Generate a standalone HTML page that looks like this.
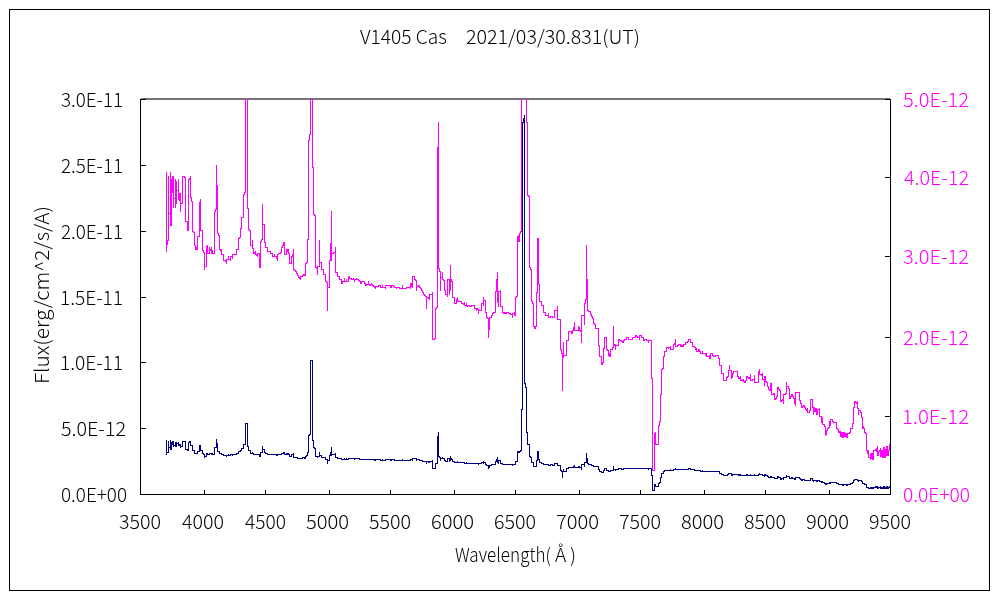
<!DOCTYPE html>
<html><head><meta charset="utf-8"><style>html,body{margin:0;padding:0;background:#fff;overflow:hidden}svg{display:block}</style></head>
<body><svg width="1000" height="600" viewBox="0 0 1000 600">
<rect x="0" y="0" width="1000" height="600" fill="#fff"/>
<rect x="9.5" y="9.5" width="980" height="581" fill="none" stroke="#000" stroke-width="1" shape-rendering="crispEdges"/>
<rect x="141" y="98" width="749" height="2" fill="#747474" shape-rendering="crispEdges"/>
<path d="M166 172h1v80h-1zM167 240h1v5h-1zM168 176h1v65h-1zM169 213h1v1h-1zM170 172h1v54h-1zM171 179h1v47h-1zM172 176h1v17h-1zM173 176h1v32h-1zM174 198h1v1h-1zM175 179h1v29h-1zM176 181h1v23h-1zM177 190h1v1h-1zM178 179h1v21h-1zM179 193h1v8h-1zM180 193h1v19h-1zM181 203h1v1h-1zM182 176h1v28h-1zM183 176h1v1h-1zM184 176h1v2h-1zM185 177h1v45h-1zM186 221h1v1h-1zM187 221h1v10h-1zM188 179h1v52h-1zM189 178h1v2h-1zM190 176h1v22h-1zM191 197h1v5h-1zM192 201h1v31h-1zM193 231h1v2h-1zM194 232h1v14h-1zM195 245h1v5h-1zM196 247h1v3h-1zM197 236h1v14h-1zM198 236h1v1h-1zM199 202h1v35h-1zM200 199h1v32h-1zM201 230h1v1h-1zM202 230h1v21h-1zM203 250h1v3h-1zM204 252h1v18h-1zM205 266h1v1h-1zM206 246h1v21h-1zM207 245h1v9h-1zM208 253h1v1h-1zM209 247h1v7h-1zM210 249h1v2h-1zM211 247h1v7h-1zM212 250h1v4h-1zM213 253h1v1h-1zM214 211h1v43h-1zM215 209h1v3h-1zM216 165h1v45h-1zM217 185h1v49h-1zM218 233h1v3h-1zM219 235h1v15h-1zM220 249h1v2h-1zM221 249h1v6h-1zM222 254h1v1h-1zM223 254h1v7h-1zM224 260h1v1h-1zM225 260h1v2h-1zM226 259h1v5h-1zM227 259h1v1h-1zM228 256h1v4h-1zM229 259h1v1h-1zM230 256h1v5h-1zM231 256h1v1h-1zM232 254h1v5h-1zM233 254h1v1h-1zM234 254h1v1h-1zM235 254h1v1h-1zM236 249h1v6h-1zM237 249h1v1h-1zM238 238h1v12h-1zM239 237h1v2h-1zM240 228h1v10h-1zM241 217h1v12h-1zM242 217h1v1h-1zM243 194h1v24h-1zM244 192h1v3h-1zM245 99h1v94h-1zM247 99h1v110h-1zM248 208h1v22h-1zM249 229h1v2h-1zM250 230h1v16h-1zM251 245h1v1h-1zM252 240h1v9h-1zM253 248h1v6h-1zM254 252h1v2h-1zM255 251h1v4h-1zM256 254h1v2h-1zM257 253h1v4h-1zM258 253h1v1h-1zM259 253h1v15h-1zM260 241h1v27h-1zM261 239h1v3h-1zM262 204h1v36h-1zM263 224h1v1h-1zM264 224h1v19h-1zM265 242h1v6h-1zM266 247h1v1h-1zM267 247h1v5h-1zM268 251h1v1h-1zM269 251h1v1h-1zM270 251h1v3h-1zM271 253h1v1h-1zM272 253h1v4h-1zM273 256h1v1h-1zM274 254h1v3h-1zM275 256h1v1h-1zM276 256h1v3h-1zM277 254h1v7h-1zM278 253h1v2h-1zM279 253h1v1h-1zM280 252h1v2h-1zM281 247h1v6h-1zM282 245h1v3h-1zM283 242h1v4h-1zM284 242h1v13h-1zM285 254h1v1h-1zM286 249h1v6h-1zM287 249h1v3h-1zM288 249h1v5h-1zM289 253h1v11h-1zM290 263h1v1h-1zM291 256h1v8h-1zM292 254h1v3h-1zM293 249h1v21h-1zM294 269h1v2h-1zM295 270h1v2h-1zM296 271h1v3h-1zM297 273h1v3h-1zM298 275h1v3h-1zM299 277h1v2h-1zM300 276h1v4h-1zM301 276h1v1h-1zM302 275h1v2h-1zM303 274h1v2h-1zM304 274h1v2h-1zM305 263h1v13h-1zM306 262h1v2h-1zM307 239h1v24h-1zM308 140h1v100h-1zM309 134h1v7h-1zM310 99h1v36h-1zM312 99h1v69h-1zM313 167h1v48h-1zM314 214h1v2h-1zM315 215h1v53h-1zM316 267h1v2h-1zM317 266h1v9h-1zM318 266h1v1h-1zM319 240h1v27h-1zM320 262h1v1h-1zM321 262h1v8h-1zM322 269h1v1h-1zM323 269h1v6h-1zM324 274h1v1h-1zM325 274h1v8h-1zM326 281h1v2h-1zM327 282h1v29h-1zM328 287h1v1h-1zM329 260h1v28h-1zM330 243h1v18h-1zM331 211h1v50h-1zM332 253h1v1h-1zM333 252h1v2h-1zM334 252h1v1h-1zM335 247h1v26h-1zM336 272h1v1h-1zM337 272h1v5h-1zM338 276h1v1h-1zM339 276h1v4h-1zM340 279h1v1h-1zM341 279h1v5h-1zM342 281h1v3h-1zM343 281h1v1h-1zM344 278h1v4h-1zM345 281h1v1h-1zM346 279h1v3h-1zM347 281h1v1h-1zM348 276h1v6h-1zM349 276h1v3h-1zM350 278h1v1h-1zM351 278h1v2h-1zM352 279h1v1h-1zM353 278h1v2h-1zM354 279h1v3h-1zM355 279h1v1h-1zM356 278h1v2h-1zM357 279h1v1h-1zM358 279h1v2h-1zM359 280h1v2h-1zM360 281h1v3h-1zM361 281h1v3h-1zM362 281h1v1h-1zM363 281h1v1h-1zM364 281h1v3h-1zM365 283h1v3h-1zM366 284h1v2h-1zM367 284h1v1h-1zM368 281h1v4h-1zM369 284h1v2h-1zM370 284h1v2h-1zM371 283h1v2h-1zM372 284h1v2h-1zM373 285h1v2h-1zM374 286h1v2h-1zM375 286h1v3h-1zM376 286h1v1h-1zM377 286h1v1h-1zM378 285h1v2h-1zM379 285h1v1h-1zM380 285h1v3h-1zM381 287h1v1h-1zM382 285h1v3h-1zM383 287h1v1h-1zM384 287h1v1h-1zM385 285h1v4h-1zM386 285h1v1h-1zM387 285h1v1h-1zM388 285h1v1h-1zM389 285h1v1h-1zM390 285h1v3h-1zM391 285h1v3h-1zM392 285h1v1h-1zM393 285h1v2h-1zM394 286h1v2h-1zM395 287h1v1h-1zM396 287h1v2h-1zM397 287h1v1h-1zM398 287h1v1h-1zM399 287h1v2h-1zM400 288h1v1h-1zM401 288h1v1h-1zM402 285h1v4h-1zM403 288h1v1h-1zM404 288h1v1h-1zM405 288h1v1h-1zM406 287h1v2h-1zM407 287h1v1h-1zM408 287h1v1h-1zM409 287h1v1h-1zM410 283h1v6h-1zM411 283h1v4h-1zM412 276h1v12h-1zM413 276h1v1h-1zM414 276h1v4h-1zM415 279h1v2h-1zM416 280h1v11h-1zM417 286h1v1h-1zM418 285h1v2h-1zM419 285h1v3h-1zM420 287h1v2h-1zM421 288h1v3h-1zM422 290h1v3h-1zM423 292h1v3h-1zM424 294h1v2h-1zM425 295h1v2h-1zM426 296h1v13h-1zM427 297h1v1h-1zM428 297h1v2h-1zM429 294h1v6h-1zM430 294h1v1h-1zM431 294h1v1h-1zM432 292h1v48h-1zM433 339h1v1h-1zM434 338h1v2h-1zM435 308h1v31h-1zM436 307h1v2h-1zM437 147h1v161h-1zM438 122h1v147h-1zM439 268h1v4h-1zM440 271h1v20h-1zM441 277h1v1h-1zM442 272h1v8h-1zM443 279h1v2h-1zM444 280h1v11h-1zM445 290h1v5h-1zM446 294h1v1h-1zM447 279h1v18h-1zM448 279h1v1h-1zM449 279h1v16h-1zM450 265h1v26h-1zM451 279h1v3h-1zM452 281h1v17h-1zM453 297h1v1h-1zM454 297h1v7h-1zM455 303h1v1h-1zM456 299h1v5h-1zM457 297h1v5h-1zM458 301h1v1h-1zM459 301h1v1h-1zM460 301h1v1h-1zM461 301h1v3h-1zM462 303h1v1h-1zM463 303h1v2h-1zM464 302h1v4h-1zM465 305h1v1h-1zM466 303h1v4h-1zM467 305h1v2h-1zM468 305h1v1h-1zM469 305h1v2h-1zM470 306h1v1h-1zM471 305h1v2h-1zM472 305h1v1h-1zM473 305h1v1h-1zM474 305h1v4h-1zM475 308h1v1h-1zM476 308h1v3h-1zM477 308h1v2h-1zM478 309h1v5h-1zM479 310h1v1h-1zM480 310h1v1h-1zM481 303h1v8h-1zM482 303h1v1h-1zM483 297h1v9h-1zM484 300h1v1h-1zM485 300h1v13h-1zM486 312h1v6h-1zM487 317h1v2h-1zM488 318h1v20h-1zM489 317h1v13h-1zM490 317h1v1h-1zM491 315h1v3h-1zM492 313h1v3h-1zM493 312h1v2h-1zM494 312h1v1h-1zM495 291h1v22h-1zM496 279h1v13h-1zM497 272h1v31h-1zM498 291h1v16h-1zM499 291h1v1h-1zM500 290h1v17h-1zM501 306h1v1h-1zM502 306h1v7h-1zM503 312h1v2h-1zM504 312h1v2h-1zM505 312h1v2h-1zM506 312h1v2h-1zM507 312h1v1h-1zM508 312h1v2h-1zM509 313h1v1h-1zM510 313h1v2h-1zM511 314h1v1h-1zM512 313h1v5h-1zM513 313h1v1h-1zM514 312h1v4h-1zM515 297h1v19h-1zM516 296h1v2h-1zM517 236h1v61h-1zM518 235h1v7h-1zM519 233h1v9h-1zM520 231h1v3h-1zM521 99h1v133h-1zM526 99h1v24h-1zM527 122h1v74h-1zM528 195h1v2h-1zM529 196h1v72h-1zM530 267h1v3h-1zM531 269h1v33h-1zM532 301h1v3h-1zM533 303h1v24h-1zM534 326h1v3h-1zM535 326h1v3h-1zM536 292h1v35h-1zM537 238h1v55h-1zM538 238h1v47h-1zM539 284h1v18h-1zM540 301h1v1h-1zM541 301h1v5h-1zM542 305h1v1h-1zM543 305h1v8h-1zM544 312h1v1h-1zM545 312h1v4h-1zM546 315h1v1h-1zM547 315h1v1h-1zM548 313h1v5h-1zM549 317h1v1h-1zM550 316h1v2h-1zM551 316h1v1h-1zM552 316h1v2h-1zM553 317h1v1h-1zM554 310h1v8h-1zM555 310h1v1h-1zM556 310h1v1h-1zM557 306h1v14h-1zM558 319h1v1h-1zM559 319h1v1h-1zM560 319h1v31h-1zM561 349h1v5h-1zM562 353h1v38h-1zM563 342h1v16h-1zM564 355h1v1h-1zM565 355h1v1h-1zM566 340h1v16h-1zM567 340h1v1h-1zM568 331h1v10h-1zM569 331h1v1h-1zM570 331h1v1h-1zM571 331h1v3h-1zM572 330h1v4h-1zM573 327h1v4h-1zM574 322h1v9h-1zM575 330h1v1h-1zM576 330h1v1h-1zM577 330h1v1h-1zM578 326h1v5h-1zM579 327h1v4h-1zM580 330h1v2h-1zM581 315h1v28h-1zM582 315h1v1h-1zM583 315h1v1h-1zM584 303h1v22h-1zM585 299h1v5h-1zM586 245h1v55h-1zM587 279h1v32h-1zM588 310h1v2h-1zM589 311h1v1h-1zM590 311h1v4h-1zM591 314h1v3h-1zM592 316h1v3h-1zM593 318h1v6h-1zM594 323h1v2h-1zM595 324h1v5h-1zM596 328h1v1h-1zM597 328h1v1h-1zM598 328h1v18h-1zM599 345h1v12h-1zM600 356h1v1h-1zM601 356h1v9h-1zM602 362h1v3h-1zM603 348h1v15h-1zM604 337h1v12h-1zM605 337h1v1h-1zM606 337h1v13h-1zM607 349h1v2h-1zM608 350h1v6h-1zM609 353h1v4h-1zM610 349h1v8h-1zM611 349h1v1h-1zM612 347h1v3h-1zM613 326h1v22h-1zM614 344h1v2h-1zM615 344h1v6h-1zM616 345h1v1h-1zM617 345h1v1h-1zM618 339h1v7h-1zM619 339h1v2h-1zM620 340h1v1h-1zM621 340h1v2h-1zM622 341h1v2h-1zM623 340h1v3h-1zM624 339h1v2h-1zM625 339h1v1h-1zM626 337h1v3h-1zM627 337h1v1h-1zM628 337h1v3h-1zM629 339h1v1h-1zM630 339h1v1h-1zM631 339h1v1h-1zM632 337h1v3h-1zM633 337h1v1h-1zM634 337h1v1h-1zM635 335h1v3h-1zM636 335h1v2h-1zM637 336h1v2h-1zM638 337h1v1h-1zM639 335h1v5h-1zM640 335h1v1h-1zM641 335h1v3h-1zM642 337h1v1h-1zM643 337h1v4h-1zM644 339h1v2h-1zM645 339h1v1h-1zM646 339h1v2h-1zM647 340h1v1h-1zM648 340h1v3h-1zM649 340h1v1h-1zM650 340h1v1h-1zM651 340h1v39h-1zM652 378h1v93h-1zM653 470h1v1h-1zM654 433h1v38h-1zM655 432h1v13h-1zM656 444h1v1h-1zM657 444h1v1h-1zM658 425h1v20h-1zM659 421h1v5h-1zM660 394h1v28h-1zM661 369h1v26h-1zM662 368h1v2h-1zM663 356h1v13h-1zM664 351h1v6h-1zM665 351h1v1h-1zM666 347h1v5h-1zM667 347h1v1h-1zM668 347h1v2h-1zM669 347h1v1h-1zM670 346h1v4h-1zM671 349h1v1h-1zM672 349h1v1h-1zM673 344h1v6h-1zM674 343h1v2h-1zM675 339h1v8h-1zM676 346h1v1h-1zM677 345h1v2h-1zM678 344h1v2h-1zM679 344h1v1h-1zM680 344h1v3h-1zM681 345h1v2h-1zM682 345h1v2h-1zM683 344h1v3h-1zM684 344h1v1h-1zM685 342h1v3h-1zM686 342h1v1h-1zM687 341h1v2h-1zM688 339h1v3h-1zM689 339h1v1h-1zM690 339h1v4h-1zM691 342h1v1h-1zM692 342h1v5h-1zM693 346h1v1h-1zM694 346h1v2h-1zM695 347h1v3h-1zM696 348h1v4h-1zM697 351h1v1h-1zM698 349h1v3h-1zM699 349h1v3h-1zM700 351h1v3h-1zM701 353h1v1h-1zM702 351h1v3h-1zM703 353h1v1h-1zM704 353h1v1h-1zM705 353h1v3h-1zM706 353h1v4h-1zM707 356h1v1h-1zM708 356h1v1h-1zM709 355h1v4h-1zM710 353h1v6h-1zM711 353h1v1h-1zM712 353h1v3h-1zM713 355h1v2h-1zM714 356h1v1h-1zM715 355h1v2h-1zM716 355h1v1h-1zM717 355h1v1h-1zM718 355h1v4h-1zM719 358h1v8h-1zM720 365h1v1h-1zM721 365h1v9h-1zM722 373h1v1h-1zM723 373h1v8h-1zM724 380h1v1h-1zM725 380h1v1h-1zM726 377h1v4h-1zM727 376h1v2h-1zM728 370h1v7h-1zM729 365h1v6h-1zM730 370h1v1h-1zM731 370h1v9h-1zM732 373h1v5h-1zM733 371h1v3h-1zM734 371h1v1h-1zM735 371h1v1h-1zM736 371h1v1h-1zM737 371h1v6h-1zM738 376h1v3h-1zM739 377h1v2h-1zM740 376h1v5h-1zM741 380h1v1h-1zM742 379h1v2h-1zM743 379h1v3h-1zM744 381h1v2h-1zM745 380h1v3h-1zM746 376h1v5h-1zM747 376h1v2h-1zM748 377h1v2h-1zM749 377h1v2h-1zM750 374h1v7h-1zM751 380h1v1h-1zM752 379h1v2h-1zM753 379h1v1h-1zM754 375h1v8h-1zM755 382h1v1h-1zM756 382h1v1h-1zM757 382h1v1h-1zM758 371h1v12h-1zM759 369h1v6h-1zM760 374h1v1h-1zM761 374h1v2h-1zM762 373h1v7h-1zM763 379h1v1h-1zM764 376h1v10h-1zM765 376h1v6h-1zM766 381h1v2h-1zM767 382h1v5h-1zM768 386h1v4h-1zM769 389h1v2h-1zM770 383h1v8h-1zM771 383h1v12h-1zM772 394h1v1h-1zM773 393h1v2h-1zM774 393h1v7h-1zM775 398h1v2h-1zM776 396h1v3h-1zM777 387h1v10h-1zM778 387h1v3h-1zM779 389h1v2h-1zM780 390h1v12h-1zM781 400h1v2h-1zM782 399h1v2h-1zM783 394h1v10h-1zM784 394h1v1h-1zM785 393h1v2h-1zM786 382h1v12h-1zM787 386h1v1h-1zM788 386h1v3h-1zM789 388h1v11h-1zM790 396h1v3h-1zM791 394h1v3h-1zM792 394h1v3h-1zM793 396h1v3h-1zM794 398h1v6h-1zM795 392h1v14h-1zM796 392h1v1h-1zM797 392h1v1h-1zM798 392h1v1h-1zM799 392h1v9h-1zM800 400h1v4h-1zM801 403h1v5h-1zM802 406h1v2h-1zM803 405h1v2h-1zM804 405h1v3h-1zM805 407h1v3h-1zM806 409h1v2h-1zM807 408h1v5h-1zM808 412h1v1h-1zM809 410h1v3h-1zM810 399h1v12h-1zM811 399h1v1h-1zM812 399h1v9h-1zM813 407h1v8h-1zM814 407h1v5h-1zM815 408h1v4h-1zM816 408h1v7h-1zM817 409h1v6h-1zM818 409h1v1h-1zM819 408h1v9h-1zM820 416h1v1h-1zM821 416h1v7h-1zM822 417h1v8h-1zM823 424h1v1h-1zM824 424h1v3h-1zM825 426h1v10h-1zM826 430h1v5h-1zM827 428h1v3h-1zM828 427h1v2h-1zM829 421h1v7h-1zM830 419h1v7h-1zM831 419h1v1h-1zM832 419h1v3h-1zM833 421h1v2h-1zM834 422h1v1h-1zM835 422h1v1h-1zM836 422h1v7h-1zM837 428h1v2h-1zM838 429h1v4h-1zM839 431h1v2h-1zM840 431h1v6h-1zM841 432h1v5h-1zM842 432h1v6h-1zM843 432h1v6h-1zM844 432h1v5h-1zM845 433h1v4h-1zM846 433h1v5h-1zM847 433h1v5h-1zM848 433h1v1h-1zM849 432h1v2h-1zM850 428h1v5h-1zM851 428h1v1h-1zM852 423h1v6h-1zM853 407h1v17h-1zM854 401h1v7h-1zM855 401h1v2h-1zM856 402h1v2h-1zM857 401h1v8h-1zM858 408h1v7h-1zM859 410h1v1h-1zM860 410h1v3h-1zM861 412h1v6h-1zM862 417h1v12h-1zM863 426h1v3h-1zM864 428h1v5h-1zM865 432h1v2h-1zM866 433h1v18h-1zM867 450h1v4h-1zM868 450h1v8h-1zM869 457h1v1h-1zM870 453h1v7h-1zM871 453h1v6h-1zM872 453h1v7h-1zM873 450h1v10h-1zM874 450h1v1h-1zM875 449h1v2h-1zM876 448h1v4h-1zM877 446h1v10h-1zM878 451h1v5h-1zM879 450h1v2h-1zM880 448h1v9h-1zM881 450h1v7h-1zM882 450h1v8h-1zM883 447h1v11h-1zM884 447h1v11h-1zM885 449h1v9h-1zM886 446h1v10h-1zM887 446h1v10h-1zM888 450h1v6h-1zM889 444h1v7h-1z" fill="#FF00FF" shape-rendering="crispEdges"/>
<path d="M166 440h1v15h-1zM167 452h1v1h-1zM168 441h1v12h-1zM169 447h1v1h-1zM170 440h1v10h-1zM171 442h1v8h-1zM172 441h1v4h-1zM173 441h1v6h-1zM174 445h1v1h-1zM175 442h1v5h-1zM176 442h1v5h-1zM177 443h1v1h-1zM178 442h1v4h-1zM179 444h1v2h-1zM180 444h1v4h-1zM181 446h1v1h-1zM182 441h1v6h-1zM183 441h1v1h-1zM184 441h1v1h-1zM185 441h1v9h-1zM186 449h1v1h-1zM187 449h1v2h-1zM188 442h1v9h-1zM189 441h1v2h-1zM190 441h1v5h-1zM191 445h1v1h-1zM192 445h1v6h-1zM193 450h1v1h-1zM194 450h1v4h-1zM195 453h1v1h-1zM196 453h1v1h-1zM197 451h1v3h-1zM198 451h1v1h-1zM199 445h1v7h-1zM200 445h1v6h-1zM201 450h1v1h-1zM202 450h1v4h-1zM203 453h1v2h-1zM204 454h1v4h-1zM205 456h1v1h-1zM206 453h1v4h-1zM207 453h1v2h-1zM208 454h1v1h-1zM209 453h1v2h-1zM210 453h1v1h-1zM211 453h1v2h-1zM212 453h1v2h-1zM213 454h1v1h-1zM214 447h1v8h-1zM215 447h1v1h-1zM216 439h1v9h-1zM217 443h1v9h-1zM218 451h1v1h-1zM219 451h1v3h-1zM220 453h1v1h-1zM221 453h1v2h-1zM222 454h1v1h-1zM223 454h1v2h-1zM224 455h1v1h-1zM225 455h1v1h-1zM226 455h1v2h-1zM227 455h1v1h-1zM228 454h1v2h-1zM229 455h1v1h-1zM230 454h1v2h-1zM231 454h1v1h-1zM232 454h1v2h-1zM233 454h1v1h-1zM234 454h1v1h-1zM235 454h1v1h-1zM236 453h1v2h-1zM237 453h1v1h-1zM238 451h1v3h-1zM239 451h1v1h-1zM240 450h1v2h-1zM241 448h1v3h-1zM242 448h1v1h-1zM243 444h1v5h-1zM244 444h1v1h-1zM245 423h1v22h-1zM246 423h1v1h-1zM247 423h1v24h-1zM248 446h1v5h-1zM249 450h1v1h-1zM250 450h1v4h-1zM251 453h1v1h-1zM252 452h1v2h-1zM253 453h1v2h-1zM254 454h1v1h-1zM255 454h1v1h-1zM256 454h1v1h-1zM257 454h1v1h-1zM258 454h1v1h-1zM259 454h1v3h-1zM260 452h1v5h-1zM261 452h1v1h-1zM262 446h1v7h-1zM263 449h1v1h-1zM264 449h1v4h-1zM265 452h1v2h-1zM266 453h1v1h-1zM267 453h1v2h-1zM268 454h1v1h-1zM269 454h1v1h-1zM270 454h1v1h-1zM271 454h1v1h-1zM272 454h1v1h-1zM273 454h1v1h-1zM274 454h1v1h-1zM275 454h1v1h-1zM276 454h1v2h-1zM277 454h1v2h-1zM278 454h1v1h-1zM279 454h1v1h-1zM280 454h1v1h-1zM281 453h1v2h-1zM282 453h1v1h-1zM283 452h1v2h-1zM284 452h1v3h-1zM285 454h1v1h-1zM286 453h1v2h-1zM287 453h1v2h-1zM288 453h1v2h-1zM289 454h1v3h-1zM290 456h1v1h-1zM291 454h1v3h-1zM292 454h1v1h-1zM293 453h1v5h-1zM294 457h1v1h-1zM295 457h1v1h-1zM296 457h1v1h-1zM297 457h1v2h-1zM298 458h1v1h-1zM299 458h1v1h-1zM300 458h1v1h-1zM301 458h1v1h-1zM302 457h1v2h-1zM303 457h1v1h-1zM304 457h1v2h-1zM305 456h1v3h-1zM306 455h1v2h-1zM307 452h1v4h-1zM308 435h1v18h-1zM309 434h1v2h-1zM310 360h1v75h-1zM311 360h1v1h-1zM312 360h1v81h-1zM313 440h1v8h-1zM314 447h1v2h-1zM315 448h1v9h-1zM316 456h1v1h-1zM317 456h1v2h-1zM318 456h1v1h-1zM319 452h1v5h-1zM320 455h1v1h-1zM321 455h1v3h-1zM322 457h1v1h-1zM323 457h1v1h-1zM324 457h1v1h-1zM325 457h1v3h-1zM326 459h1v1h-1zM327 459h1v5h-1zM328 460h1v1h-1zM329 455h1v6h-1zM330 452h1v4h-1zM331 447h1v9h-1zM332 454h1v1h-1zM333 454h1v1h-1zM334 454h1v1h-1zM335 453h1v5h-1zM336 457h1v1h-1zM337 457h1v2h-1zM338 458h1v1h-1zM339 458h1v1h-1zM340 458h1v1h-1zM341 458h1v2h-1zM342 459h1v1h-1zM343 459h1v1h-1zM344 458h1v2h-1zM345 459h1v1h-1zM346 458h1v2h-1zM347 459h1v1h-1zM348 458h1v2h-1zM349 458h1v1h-1zM350 458h1v1h-1zM351 458h1v1h-1zM352 458h1v1h-1zM353 458h1v1h-1zM354 458h1v2h-1zM355 458h1v1h-1zM356 458h1v1h-1zM357 458h1v1h-1zM358 458h1v1h-1zM359 458h1v2h-1zM360 459h1v1h-1zM361 459h1v1h-1zM362 459h1v1h-1zM363 459h1v1h-1zM364 459h1v1h-1zM365 459h1v1h-1zM366 459h1v1h-1zM367 459h1v1h-1zM368 459h1v1h-1zM369 459h1v1h-1zM370 459h1v1h-1zM371 459h1v1h-1zM372 459h1v1h-1zM373 459h1v1h-1zM374 459h1v2h-1zM375 459h1v2h-1zM376 459h1v1h-1zM377 459h1v1h-1zM378 459h1v1h-1zM379 459h1v1h-1zM380 459h1v2h-1zM381 460h1v1h-1zM382 459h1v2h-1zM383 460h1v1h-1zM384 460h1v1h-1zM385 459h1v2h-1zM386 459h1v1h-1zM387 459h1v1h-1zM388 459h1v1h-1zM389 459h1v1h-1zM390 459h1v2h-1zM391 459h1v2h-1zM392 459h1v1h-1zM393 459h1v1h-1zM394 459h1v2h-1zM395 460h1v1h-1zM396 460h1v1h-1zM397 460h1v1h-1zM398 460h1v1h-1zM399 460h1v1h-1zM400 460h1v1h-1zM401 460h1v1h-1zM402 459h1v2h-1zM403 460h1v1h-1zM404 460h1v1h-1zM405 460h1v1h-1zM406 460h1v1h-1zM407 460h1v1h-1zM408 460h1v1h-1zM409 460h1v1h-1zM410 459h1v2h-1zM411 459h1v1h-1zM412 458h1v3h-1zM413 458h1v1h-1zM414 458h1v1h-1zM415 458h1v1h-1zM416 458h1v3h-1zM417 459h1v1h-1zM418 459h1v1h-1zM419 459h1v2h-1zM420 460h1v1h-1zM421 460h1v1h-1zM422 460h1v2h-1zM423 461h1v1h-1zM424 461h1v1h-1zM425 461h1v1h-1zM426 461h1v3h-1zM427 461h1v1h-1zM428 461h1v2h-1zM429 461h1v2h-1zM430 461h1v1h-1zM431 461h1v1h-1zM432 460h1v9h-1zM433 468h1v1h-1zM434 468h1v1h-1zM435 463h1v6h-1zM436 463h1v1h-1zM437 436h1v28h-1zM438 432h1v25h-1zM439 456h1v2h-1zM440 457h1v4h-1zM441 458h1v1h-1zM442 457h1v2h-1zM443 458h1v1h-1zM444 458h1v3h-1zM445 460h1v2h-1zM446 461h1v1h-1zM447 458h1v4h-1zM448 458h1v1h-1zM449 458h1v4h-1zM450 456h1v5h-1zM451 458h1v2h-1zM452 459h1v3h-1zM453 461h1v1h-1zM454 461h1v2h-1zM455 462h1v1h-1zM456 462h1v1h-1zM457 461h1v2h-1zM458 462h1v1h-1zM459 462h1v1h-1zM460 462h1v1h-1zM461 462h1v1h-1zM462 462h1v1h-1zM463 462h1v1h-1zM464 462h1v2h-1zM465 463h1v1h-1zM466 462h1v2h-1zM467 463h1v1h-1zM468 463h1v1h-1zM469 463h1v1h-1zM470 463h1v1h-1zM471 463h1v1h-1zM472 463h1v1h-1zM473 463h1v1h-1zM474 463h1v1h-1zM475 463h1v1h-1zM476 463h1v1h-1zM477 463h1v1h-1zM478 463h1v2h-1zM479 463h1v1h-1zM480 463h1v1h-1zM481 462h1v2h-1zM482 462h1v1h-1zM483 461h1v3h-1zM484 462h1v1h-1zM485 462h1v3h-1zM486 464h1v2h-1zM487 465h1v1h-1zM488 465h1v4h-1zM489 465h1v3h-1zM490 465h1v1h-1zM491 464h1v2h-1zM492 464h1v1h-1zM493 464h1v1h-1zM494 464h1v1h-1zM495 461h1v4h-1zM496 459h1v3h-1zM497 457h1v6h-1zM498 460h1v4h-1zM499 460h1v1h-1zM500 460h1v4h-1zM501 463h1v1h-1zM502 463h1v2h-1zM503 464h1v1h-1zM504 464h1v1h-1zM505 464h1v1h-1zM506 464h1v1h-1zM507 464h1v1h-1zM508 464h1v1h-1zM509 464h1v1h-1zM510 464h1v1h-1zM511 464h1v1h-1zM512 464h1v2h-1zM513 464h1v1h-1zM514 464h1v1h-1zM515 461h1v4h-1zM516 461h1v1h-1zM517 451h1v11h-1zM518 451h1v2h-1zM519 451h1v2h-1zM520 450h1v2h-1zM521 409h1v42h-1zM522 122h1v288h-1zM523 118h1v5h-1zM524 115h1v269h-1zM525 383h1v5h-1zM526 387h1v46h-1zM527 432h1v13h-1zM528 444h1v1h-1zM529 444h1v13h-1zM530 456h1v2h-1zM531 457h1v6h-1zM532 462h1v1h-1zM533 462h1v5h-1zM534 466h1v1h-1zM535 466h1v1h-1zM536 460h1v7h-1zM537 451h1v10h-1zM538 451h1v9h-1zM539 459h1v4h-1zM540 462h1v1h-1zM541 462h1v2h-1zM542 463h1v1h-1zM543 463h1v2h-1zM544 464h1v1h-1zM545 464h1v1h-1zM546 464h1v1h-1zM547 464h1v1h-1zM548 464h1v2h-1zM549 465h1v1h-1zM550 464h1v2h-1zM551 464h1v1h-1zM552 464h1v2h-1zM553 465h1v1h-1zM554 463h1v3h-1zM555 463h1v1h-1zM556 463h1v1h-1zM557 463h1v3h-1zM558 465h1v1h-1zM559 465h1v1h-1zM560 465h1v6h-1zM561 470h1v2h-1zM562 471h1v7h-1zM563 469h1v3h-1zM564 471h1v1h-1zM565 471h1v1h-1zM566 468h1v4h-1zM567 468h1v1h-1zM568 467h1v2h-1zM569 467h1v1h-1zM570 467h1v1h-1zM571 467h1v1h-1zM572 467h1v1h-1zM573 466h1v2h-1zM574 465h1v3h-1zM575 467h1v1h-1zM576 467h1v1h-1zM577 467h1v1h-1zM578 466h1v2h-1zM579 466h1v2h-1zM580 467h1v1h-1zM581 464h1v6h-1zM582 464h1v1h-1zM583 464h1v1h-1zM584 462h1v5h-1zM585 462h1v1h-1zM586 453h1v10h-1zM587 458h1v6h-1zM588 463h1v2h-1zM589 464h1v1h-1zM590 464h1v1h-1zM591 464h1v2h-1zM592 465h1v1h-1zM593 465h1v2h-1zM594 466h1v1h-1zM595 466h1v1h-1zM596 466h1v1h-1zM597 466h1v1h-1zM598 466h1v4h-1zM599 469h1v3h-1zM600 471h1v1h-1zM601 471h1v2h-1zM602 472h1v1h-1zM603 470h1v3h-1zM604 468h1v3h-1zM605 468h1v1h-1zM606 468h1v3h-1zM607 470h1v1h-1zM608 470h1v2h-1zM609 471h1v1h-1zM610 470h1v2h-1zM611 470h1v1h-1zM612 470h1v1h-1zM613 466h1v5h-1zM614 469h1v1h-1zM615 469h1v2h-1zM616 469h1v1h-1zM617 469h1v1h-1zM618 468h1v2h-1zM619 468h1v1h-1zM620 468h1v1h-1zM621 468h1v2h-1zM622 469h1v1h-1zM623 468h1v2h-1zM624 468h1v1h-1zM625 468h1v1h-1zM626 468h1v1h-1zM627 468h1v1h-1zM628 468h1v1h-1zM629 468h1v1h-1zM630 468h1v1h-1zM631 468h1v1h-1zM632 468h1v1h-1zM633 468h1v1h-1zM634 468h1v1h-1zM635 468h1v1h-1zM636 468h1v1h-1zM637 468h1v1h-1zM638 468h1v1h-1zM639 468h1v1h-1zM640 468h1v1h-1zM641 468h1v1h-1zM642 468h1v1h-1zM643 468h1v1h-1zM644 468h1v1h-1zM645 468h1v1h-1zM646 468h1v1h-1zM647 468h1v1h-1zM648 468h1v2h-1zM649 468h1v1h-1zM650 468h1v1h-1zM651 468h1v8h-1zM652 475h1v16h-1zM653 490h1v1h-1zM654 484h1v7h-1zM655 484h1v3h-1zM656 486h1v1h-1zM657 486h1v1h-1zM658 483h1v4h-1zM659 482h1v2h-1zM660 477h1v6h-1zM661 473h1v5h-1zM662 473h1v1h-1zM663 471h1v3h-1zM664 470h1v2h-1zM665 470h1v1h-1zM666 470h1v1h-1zM667 470h1v1h-1zM668 470h1v1h-1zM669 470h1v1h-1zM670 469h1v2h-1zM671 470h1v1h-1zM672 470h1v1h-1zM673 469h1v2h-1zM674 469h1v1h-1zM675 468h1v2h-1zM676 469h1v1h-1zM677 469h1v1h-1zM678 469h1v1h-1zM679 469h1v1h-1zM680 469h1v1h-1zM681 469h1v1h-1zM682 469h1v1h-1zM683 469h1v1h-1zM684 469h1v1h-1zM685 469h1v1h-1zM686 469h1v1h-1zM687 469h1v1h-1zM688 468h1v2h-1zM689 468h1v1h-1zM690 468h1v2h-1zM691 469h1v1h-1zM692 469h1v1h-1zM693 469h1v1h-1zM694 469h1v2h-1zM695 470h1v1h-1zM696 470h1v1h-1zM697 470h1v1h-1zM698 470h1v1h-1zM699 470h1v1h-1zM700 470h1v2h-1zM701 471h1v1h-1zM702 470h1v2h-1zM703 471h1v1h-1zM704 471h1v1h-1zM705 471h1v1h-1zM706 471h1v1h-1zM707 471h1v1h-1zM708 471h1v1h-1zM709 471h1v1h-1zM710 471h1v1h-1zM711 471h1v1h-1zM712 471h1v1h-1zM713 471h1v1h-1zM714 471h1v1h-1zM715 471h1v1h-1zM716 471h1v1h-1zM717 471h1v1h-1zM718 471h1v1h-1zM719 471h1v3h-1zM720 473h1v1h-1zM721 473h1v2h-1zM722 474h1v1h-1zM723 474h1v2h-1zM724 475h1v1h-1zM725 475h1v1h-1zM726 475h1v1h-1zM727 474h1v2h-1zM728 473h1v2h-1zM729 473h1v1h-1zM730 473h1v1h-1zM731 473h1v3h-1zM732 474h1v2h-1zM733 474h1v1h-1zM734 474h1v1h-1zM735 474h1v1h-1zM736 474h1v1h-1zM737 474h1v1h-1zM738 474h1v2h-1zM739 474h1v2h-1zM740 474h1v2h-1zM741 475h1v1h-1zM742 475h1v1h-1zM743 475h1v1h-1zM744 475h1v1h-1zM745 475h1v1h-1zM746 474h1v2h-1zM747 474h1v2h-1zM748 475h1v1h-1zM749 475h1v1h-1zM750 474h1v2h-1zM751 475h1v1h-1zM752 475h1v1h-1zM753 475h1v1h-1zM754 474h1v2h-1zM755 475h1v1h-1zM756 475h1v1h-1zM757 475h1v1h-1zM758 474h1v2h-1zM759 473h1v2h-1zM760 474h1v1h-1zM761 474h1v1h-1zM762 474h1v2h-1zM763 475h1v1h-1zM764 474h1v3h-1zM765 474h1v2h-1zM766 475h1v1h-1zM767 475h1v2h-1zM768 476h1v2h-1zM769 477h1v1h-1zM770 476h1v2h-1zM771 476h1v2h-1zM772 477h1v1h-1zM773 477h1v1h-1zM774 477h1v2h-1zM775 478h1v1h-1zM776 478h1v1h-1zM777 476h1v3h-1zM778 476h1v2h-1zM779 477h1v1h-1zM780 477h1v3h-1zM781 478h1v2h-1zM782 478h1v1h-1zM783 477h1v3h-1zM784 477h1v1h-1zM785 477h1v1h-1zM786 475h1v3h-1zM787 476h1v1h-1zM788 476h1v1h-1zM789 476h1v3h-1zM790 478h1v1h-1zM791 477h1v2h-1zM792 477h1v2h-1zM793 478h1v1h-1zM794 478h1v2h-1zM795 477h1v3h-1zM796 477h1v1h-1zM797 477h1v1h-1zM798 477h1v1h-1zM799 477h1v2h-1zM800 478h1v2h-1zM801 479h1v2h-1zM802 479h1v2h-1zM803 479h1v1h-1zM804 479h1v2h-1zM805 480h1v1h-1zM806 480h1v1h-1zM807 480h1v1h-1zM808 480h1v1h-1zM809 480h1v1h-1zM810 478h1v3h-1zM811 478h1v1h-1zM812 478h1v3h-1zM813 480h1v2h-1zM814 480h1v1h-1zM815 480h1v1h-1zM816 480h1v2h-1zM817 480h1v2h-1zM818 480h1v1h-1zM819 480h1v2h-1zM820 481h1v1h-1zM821 481h1v2h-1zM822 481h1v2h-1zM823 482h1v1h-1zM824 482h1v2h-1zM825 483h1v2h-1zM826 483h1v2h-1zM827 483h1v1h-1zM828 483h1v1h-1zM829 482h1v2h-1zM830 482h1v2h-1zM831 482h1v1h-1zM832 482h1v1h-1zM833 482h1v1h-1zM834 482h1v1h-1zM835 482h1v1h-1zM836 482h1v2h-1zM837 483h1v1h-1zM838 483h1v2h-1zM839 484h1v1h-1zM840 484h1v1h-1zM841 484h1v1h-1zM842 484h1v2h-1zM843 484h1v2h-1zM844 484h1v1h-1zM845 484h1v1h-1zM846 484h1v2h-1zM847 484h1v2h-1zM848 484h1v1h-1zM849 484h1v1h-1zM850 483h1v2h-1zM851 483h1v1h-1zM852 482h1v2h-1zM853 480h1v3h-1zM854 479h1v2h-1zM855 479h1v1h-1zM856 479h1v1h-1zM857 479h1v2h-1zM858 480h1v2h-1zM859 480h1v1h-1zM860 480h1v1h-1zM861 480h1v2h-1zM862 481h1v3h-1zM863 483h1v1h-1zM864 483h1v2h-1zM865 484h1v1h-1zM866 484h1v4h-1zM867 487h1v1h-1zM868 487h1v2h-1zM869 488h1v1h-1zM870 487h1v2h-1zM871 487h1v2h-1zM872 487h1v2h-1zM873 487h1v2h-1zM874 487h1v1h-1zM875 486h1v2h-1zM876 486h1v2h-1zM877 486h1v3h-1zM878 487h1v2h-1zM879 487h1v1h-1zM880 486h1v3h-1zM881 487h1v2h-1zM882 487h1v2h-1zM883 486h1v3h-1zM884 486h1v3h-1zM885 487h1v2h-1zM886 486h1v3h-1zM887 486h1v3h-1zM888 487h1v2h-1zM889 486h1v2h-1z" fill="#000080" shape-rendering="crispEdges"/>
<path d="M140.5 99V495 M890.5 99V495 M140 494.5H891 M141 99.5H146 M141 165.5H146 M141 231.5H146 M141 297.5H146 M141 362.5H146 M141 428.5H146 M141 494.5H146 M885 99.5H890 M885 177.5H890 M885 256.5H890 M885 337.5H890 M885 416.5H890 M885 494.5H890 M140.5 490V494 M204.5 490V494 M265.5 490V494 M329.5 490V494 M390.5 490V494 M454.5 490V494 M515.5 490V494 M579.5 490V494 M640.5 490V494 M704.5 490V494 M765.5 490V494 M829.5 490V494 M890.5 490V494" stroke="#000" stroke-width="1" fill="none" shape-rendering="crispEdges"/>
<g font-family="'Noto Sans CJK JP', 'Liberation Sans', sans-serif" font-weight="300">
<text x="360" y="44" font-size="19.2" fill="#000" textLength="87.01" lengthAdjust="spacingAndGlyphs">V1405 Cas</text>
<text x="465.98" y="44" font-size="19.2" fill="#000" textLength="174.05" lengthAdjust="spacingAndGlyphs">2021/03/30.831(UT)</text>
<text x="60.97" y="107" font-size="19.2" fill="#000" textLength="62.07" lengthAdjust="spacingAndGlyphs">3.0E-11</text>
<text x="60.97" y="173" font-size="19.2" fill="#000" textLength="62.07" lengthAdjust="spacingAndGlyphs">2.5E-11</text>
<text x="60.97" y="239" font-size="19.2" fill="#000" textLength="62.07" lengthAdjust="spacingAndGlyphs">2.0E-11</text>
<text x="59.89" y="305" font-size="19.2" fill="#000" textLength="63.16" lengthAdjust="spacingAndGlyphs">1.5E-11</text>
<text x="59.89" y="370" font-size="19.2" fill="#000" textLength="63.16" lengthAdjust="spacingAndGlyphs">1.0E-11</text>
<text x="60.97" y="436" font-size="19.2" fill="#000" textLength="65.07" lengthAdjust="spacingAndGlyphs">5.0E-12</text>
<text x="60.97" y="502" font-size="19.2" fill="#000" textLength="66.06" lengthAdjust="spacingAndGlyphs">0.0E+00</text>
<text x="902.97" y="107" font-size="19.2" fill="#FF00FF" textLength="66.06" lengthAdjust="spacingAndGlyphs">5.0E-12</text>
<text x="904" y="185" font-size="19.2" fill="#FF00FF" textLength="65.02" lengthAdjust="spacingAndGlyphs">4.0E-12</text>
<text x="902.97" y="264" font-size="19.2" fill="#FF00FF" textLength="66.06" lengthAdjust="spacingAndGlyphs">3.0E-12</text>
<text x="902.97" y="345" font-size="19.2" fill="#FF00FF" textLength="66.06" lengthAdjust="spacingAndGlyphs">2.0E-12</text>
<text x="901.9" y="424" font-size="19.2" fill="#FF00FF" textLength="67.15" lengthAdjust="spacingAndGlyphs">1.0E-12</text>
<text x="902.97" y="502" font-size="19.2" fill="#FF00FF" textLength="67.06" lengthAdjust="spacingAndGlyphs">0.0E+00</text>
<text x="118.95" y="529" font-size="19.2" fill="#000" textLength="42.11" lengthAdjust="spacingAndGlyphs">3500</text>
<text x="182" y="529" font-size="19.2" fill="#000" textLength="42.02" lengthAdjust="spacingAndGlyphs">4000</text>
<text x="245" y="529" font-size="19.2" fill="#000" textLength="41.03" lengthAdjust="spacingAndGlyphs">4500</text>
<text x="305.95" y="529" font-size="19.2" fill="#000" textLength="43.1" lengthAdjust="spacingAndGlyphs">5000</text>
<text x="368.95" y="529" font-size="19.2" fill="#000" textLength="42.11" lengthAdjust="spacingAndGlyphs">5500</text>
<text x="430.95" y="529" font-size="19.2" fill="#000" textLength="43.1" lengthAdjust="spacingAndGlyphs">6000</text>
<text x="493.95" y="529" font-size="19.2" fill="#000" textLength="42.11" lengthAdjust="spacingAndGlyphs">6500</text>
<text x="555.95" y="529" font-size="19.2" fill="#000" textLength="43.1" lengthAdjust="spacingAndGlyphs">7000</text>
<text x="618.95" y="529" font-size="19.2" fill="#000" textLength="42.11" lengthAdjust="spacingAndGlyphs">7500</text>
<text x="680.95" y="529" font-size="19.2" fill="#000" textLength="43.1" lengthAdjust="spacingAndGlyphs">8000</text>
<text x="743.95" y="529" font-size="19.2" fill="#000" textLength="42.11" lengthAdjust="spacingAndGlyphs">8500</text>
<text x="805.95" y="529" font-size="19.2" fill="#000" textLength="43.1" lengthAdjust="spacingAndGlyphs">9000</text>
<text x="868.95" y="529" font-size="19.2" fill="#000" textLength="42.11" lengthAdjust="spacingAndGlyphs">9500</text>
<text x="454.98" y="562" font-size="19.2" fill="#000" textLength="96.04" lengthAdjust="spacingAndGlyphs">Wavelength(</text>
<text x="555" y="562" font-size="19.2" fill="#000">Å</text>
<text x="570" y="562" font-size="19.2" fill="#000">)</text>
<text transform="translate(49,384.05) rotate(-90)" font-size="19.2" fill="#000" textLength="178.09" lengthAdjust="spacingAndGlyphs">Flux(erg/cm^2/s/A)</text>
</g>
</svg></body></html>
